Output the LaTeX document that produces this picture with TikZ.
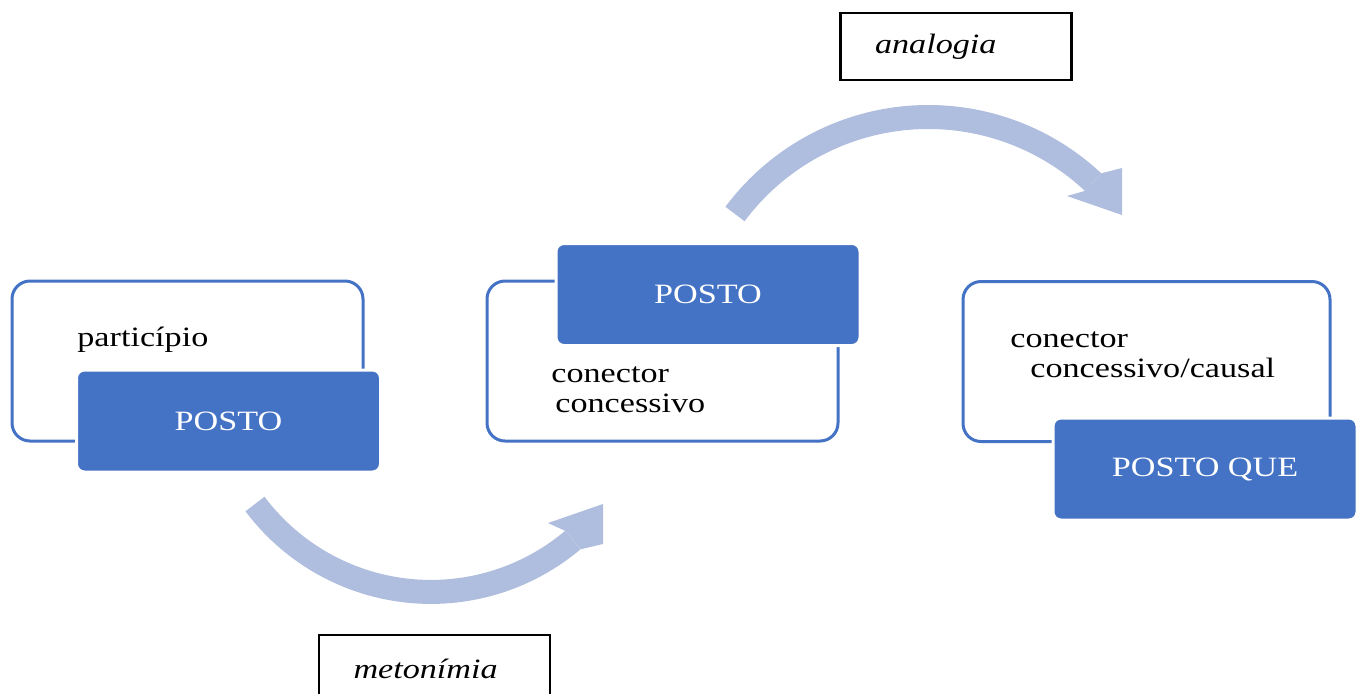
\documentclass[tikz,border=0pt]{standalone}
\usepackage{fontspec}
\setmainfont[FakeStretch=1.22]{Liberation Serif}
\definecolor{smblue}{RGB}{68,114,196}
\definecolor{arcblue}{RGB}{175,189,222}

\begin{document}
\begin{tikzpicture}[x=0.5pt,y=-0.5pt,
	every node/.style={font=\fontsize{14}{15}\selectfont},
	outerbox/.style={draw=smblue,line width=1.5pt,rounded corners=9pt,
		minimum height=80pt,inner sep=0pt},
	bluebox/.style={fill=smblue,draw=white,line width=1.5pt,rounded corners=4pt,
		minimum width=152pt,minimum height=51pt,text=white},
	tagbox/.style={draw=black,line width=1.1pt,minimum width=115.5pt,
		minimum height=33.5pt,text width=81pt,inner xsep=17pt,align=left,
		font=\fontsize{14}{15}\selectfont\itshape},
	txt/.style={anchor=base west,inner sep=0pt},
	band/.style={draw=arcblue,line width=12pt}]
	\useasboundingbox (0,0) rectangle (1363,693);
	
	% left pair
	\node[outerbox,minimum width=175.5pt] (part-frame) at (187.5,361) {};
	\node[bluebox] (posto1) at (228.5,421) {POSTO};
	\node[txt] (part) at (77,346) {particípio};
	
	% middle pair
	\node[outerbox,minimum width=175.5pt] (conc-frame) at (662.5,361) {};
	\node[bluebox] (posto2) at (708,294.5) {POSTO};
	\node[txt] (conc1) at (551,382) {conector};
	\node[txt] (conc2) at (555,412) {concessivo};
	
	% right pair
	\node[outerbox,minimum width=183.5pt] (caus-frame) at (1146.5,361.5) {};
	\node[bluebox] (posto3) at (1205,469) {POSTO QUE};
	\node[txt] (caus1) at (1010,347) {conector};
	\node[txt] (caus2) at (1030,377) {concessivo/causal};
	
	% curved arrows
	\coordinate (meto-a) at (255,504);
	\draw[band] (meto-a) arc[start angle=143.1,end angle=49.8,radius=220];
	\fill[arcblue] (565.4,530.9) -- (548,523) -- (603,504) -- (603,544)
		-- (580.9,549.2) -- cycle;
	
	\coordinate (anal-a) at (735,214);
	\draw[band] (anal-a) arc[start angle=216.7,end angle=313.1,radius=241.1];
	\fill[arcblue] (1101.2,173.3) -- (1122,168) -- (1122,215) -- (1067,196)
		-- (1084.8,190.9) -- cycle;
	
	% labels
	\node[tagbox] (analog) at (956,46.5) {analogia};
	\node[tagbox] (meton) at (434.5,668.5) {metonímia};
\end{tikzpicture}
\end{document}
